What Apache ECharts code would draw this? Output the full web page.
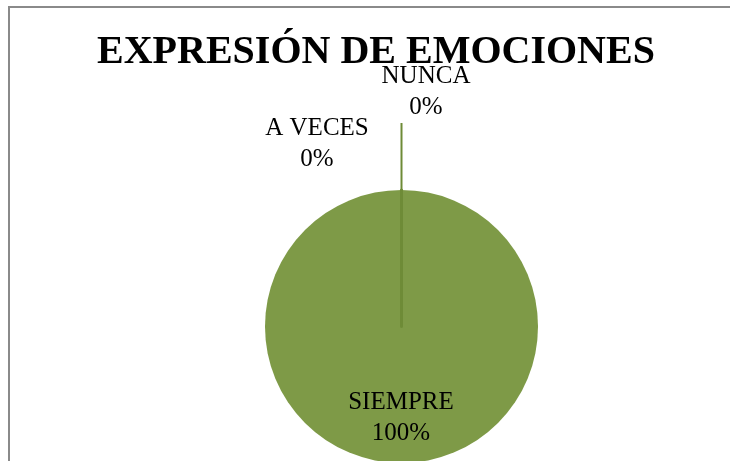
<!DOCTYPE html>
<html>
<head>
<meta charset="utf-8">
<script src="https://cdn.jsdelivr.net/npm/echarts@6/dist/echarts.min.js"></script>
<style>
  html, body { margin: 0; padding: 0; background: #fff; }
  #chart { width: 730px; height: 461px; }
</style>
</head>
<body>
<div id="chart"></div>
<script>
// datos del gráfico
const categories = ['SIEMPRE', 'A VECES', 'NUNCA'];
const values = [100, 0, 0];
const percentLabels = ['100%', '0%', '0%'];

// posiciones de las etiquetas (centro del bloque de texto)
const labelPos = {
  'SIEMPRE': [401, 418],
  'A VECES': [317, 144],
  'NUNCA': [426, 92]
};

const chart = echarts.init(document.getElementById('chart'));

const option = {
  backgroundColor: '#fff',
  animation: false,
  title: {
    text: 'EXPRESIÓN DE EMOCIONES',
    left: 92,
    top: 28,
    textStyle: {
      fontFamily: 'Liberation Serif',
      fontWeight: 'bold',
      fontSize: 40,
      color: '#000'
    }
  },
  graphic: [{
    type: 'rect',
    shape: { x: 9, y: 7, width: 760, height: 520 },
    style: { fill: 'none', stroke: '#8a8a8a', lineWidth: 2 },
    silent: true
  }],
  series: [{
    type: 'pie',
    center: [401.5, 326.5],
    radius: 136.5,
    startAngle: 90,
    clockwise: true,
    data: categories.map((name, i) => ({
      name: name,
      value: values[i],
      itemStyle: i === 0
        ? { color: '#7E9A47', borderWidth: 0 }
        : { color: '#7E9A47', borderColor: '#6E8B37', borderWidth: 2.5 },
      labelLine: { show: name === 'NUNCA', length: 20, length2: 0 }
    })),
    label: {
      show: true,
      position: 'outside',
      formatter: p => p.name + '\n' + percentLabels[p.dataIndex],
      fontFamily: 'Liberation Serif',
      fontSize: 25,
      lineHeight: 31,
      color: '#000',
      align: 'center'
    },
    labelLine: {
      lineStyle: { color: '#6E8B37', width: 2 }
    },
    labelLayout: function (params) {
      const name = categories[params.dataIndex];
      const pos = labelPos[name];
      const out = {
        x: pos[0],
        y: pos[1],
        align: 'center',
        verticalAlign: 'middle'
      };
      if (name === 'NUNCA' && params.labelLinePoints) {
        const start = params.labelLinePoints[0];
        const bottom = pos[1] + params.labelRect.height / 2;
        out.labelLinePoints = [start, [start[0], bottom]];
      }
      return out;
    },
    emphasis: { disabled: true }
  }]
};

chart.setOption(option);
</script>
</body>
</html>
